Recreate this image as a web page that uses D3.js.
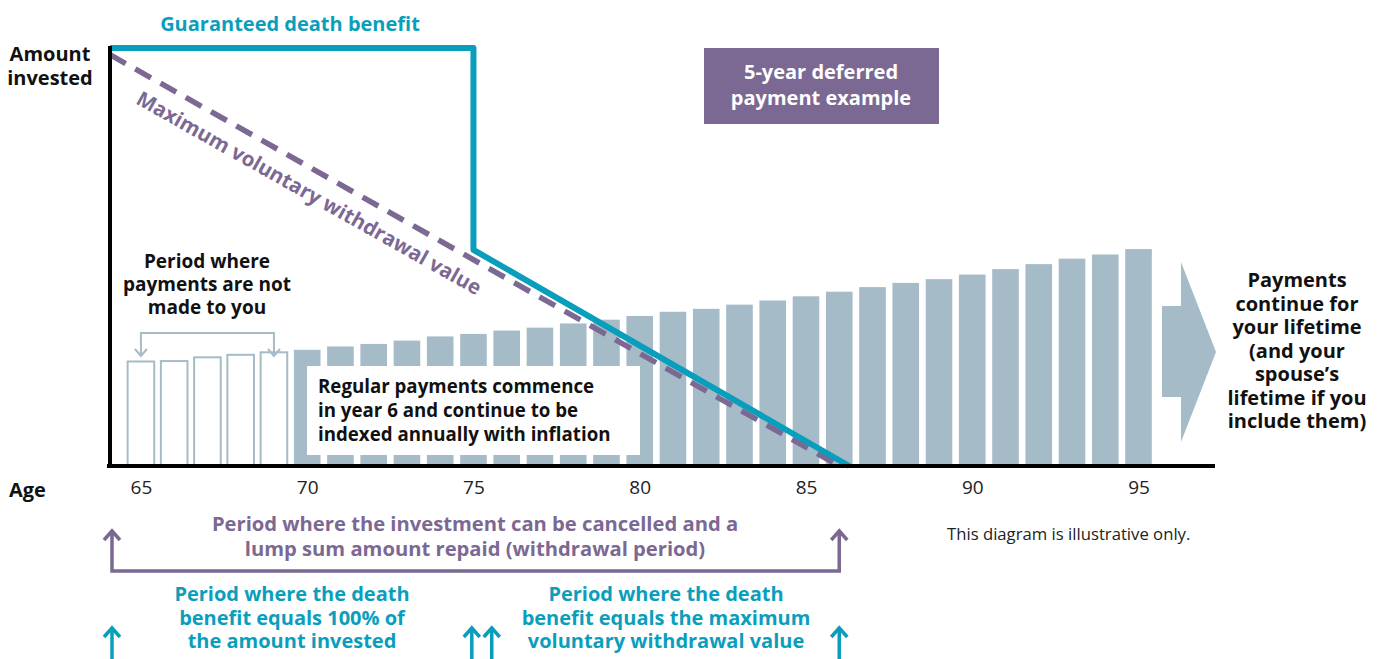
<!DOCTYPE html>
<html>
<head>
<meta charset="utf-8">
<script src="https://cdn.jsdelivr.net/npm/d3@7"></script>
<style>
  body { margin: 0; background: #fff; }
  svg { font-family: "Open Sans", "Noto Sans", sans-serif; }
</style>
</head>
<body>
<script>
// ages shown on the chart (one bar per year)
var ages = [65,66,67,68,69,70,71,72,73,74,75,76,77,78,79,80,81,82,83,84,85,86,87,88,89,90,91,92,93,94,95];
// payment amounts, as % of amount invested
var payments = [25.0,25.1,26.0,26.6,27.2,27.8,28.6,29.2,30.0,31.0,31.6,32.4,33.1,34.1,35.0,35.9,
                36.9,37.6,38.6,39.6,40.6,41.7,42.8,43.8,44.7,45.8,47.1,48.3,49.6,50.6,51.9];
var deferredYears = 5;
var tickAges = [65,70,75,80,85,90,95];

// guaranteed death benefit and max withdrawal value (age, % of amount invested)
var deathBenefit = [[64.07,100],[75,100],[75,51.7],[86.3,0]];
var withdrawal = [[64.07,98.4],[86.0,0]];

var teal = "#0a9ebd", purple = "#7b6893", barCol = "#a6bbc8";

var width = 1385, height = 659;

var x = d3.scaleLinear().domain([64.07, 97.3]).range([110, 1215]);
var y = d3.scaleLinear().domain([0, 100]).range([466, 48]);

var svg = d3.select('body').append('svg')
    .attr('width', width)
    .attr('height', height);

// bars
var bw = 0.8;
svg.append('g').selectAll('rect')
    .data(ages)
    .enter().append('rect')
    .attr('x', function(d) { return x(d - bw/2); })
    .attr('width', function(d) { return x(bw) - x(0); })
    .attr('y', function(d, i) { return y(payments[i]); })
    .attr('height', function(d, i) { return y(0) - y(payments[i]); })
    .attr('fill', function(d, i) { return i < deferredYears ? '#fff' : barCol; })
    .attr('stroke', function(d, i) { return i < deferredYears ? barCol : 'none'; })
    .attr('stroke-width', 2);

// white text box
svg.append('rect').attr('x', 307).attr('y', 366).attr('width', 333).attr('height', 89).attr('fill', '#fff');
var reg = svg.append('text').attr('font-size', 18.7).attr('font-weight', 'bold').attr('fill', '#111');
['Regular payments commence', 'in year 6 and continue to be', 'indexed annually with inflation'].forEach(function(t, i) {
  reg.append('tspan').attr('x', 318).attr('y', 393 + i*24).text(t);
});

// big arrow on the right
svg.append('path')
    .attr('d', 'M1162,306 L1181,306 L1181,262 L1216,352 L1181,442 L1181,397 L1162,397 Z')
    .attr('fill', barCol);

// lines
var line = d3.line().x(function(d) { return x(d[0]); }).y(function(d) { return y(d[1]); });

svg.append('path').datum(withdrawal)
    .attr('d', line)
    .attr('fill', 'none')
    .attr('stroke', purple)
    .attr('stroke-width', 5.5)
    .attr('stroke-dasharray', '18,11');

svg.append('path').datum(deathBenefit)
    .attr('d', line)
    .attr('fill', 'none')
    .attr('stroke', teal)
    .attr('stroke-width', 6)
    .attr('stroke-linejoin', 'round');

// axes
var xAxis = d3.axisBottom(x).tickValues(tickAges).tickSize(0).tickPadding(15);
var gx = svg.append('g').attr('transform', 'translate(0,' + y(0) + ')').call(xAxis);
gx.select('.domain').attr('stroke', '#000').attr('stroke-width', 4).attr('d', 'M107,0H1215');
gx.selectAll('text').attr('font-size', 19).attr('font-family', '"Open Sans", sans-serif').attr('fill', '#222');

svg.append('line').attr('x1', 110).attr('x2', 110).attr('y1', 46).attr('y2', 468)
    .attr('stroke', '#000').attr('stroke-width', 4);

// labels
function block(lines, xx, y0, lh, opts) {
  var t = svg.append('text')
    .attr('font-size', opts.size || 18)
    .attr('font-weight', opts.weight || 'bold')
    .attr('fill', opts.fill || '#111')
    .attr('text-anchor', opts.anchor || 'middle');
  lines.forEach(function(s, i) { t.append('tspan').attr('x', xx).attr('y', y0 + i*lh).text(s); });
  return t;
}

block(['Guaranteed death benefit'], 290, 31, 0, {size: 20, fill: teal});
block(['Amount', 'invested'], 50, 61, 24, {size: 20});
block(['Age'], 9, 497, 0, {size: 20, anchor: 'start'});

// rotated withdrawal label
var ang = Math.atan2(y(withdrawal[1][1]) - y(withdrawal[0][1]), x(withdrawal[1][0]) - x(withdrawal[0][0])) * 180 / Math.PI;
svg.append('text')
    .attr('transform', 'translate(309,193) rotate(' + ang + ')')
    .attr('text-anchor', 'middle')
    .attr('dy', '0.35em')
    .attr('font-size', 20.5)
    .attr('font-weight', 'bold')
    .attr('fill', purple)
    .text('Maximum voluntary withdrawal value');

// 5-year box
svg.append('rect').attr('x', 704).attr('y', 48).attr('width', 235).attr('height', 76).attr('fill', purple);
block(['5-year deferred', 'payment example'], 821, 79, 26, {size: 20, fill: '#fff'});

block(['Period where', 'payments are not', 'made to you'], 207, 268, 23, {size: 19});
block(['Payments', 'continue for', 'your lifetime', '(and your', 'spouse\u2019s', 'lifetime if you', 'include them)'],
      1297, 287, 23.5, {size: 20});

block(['This diagram is illustrative only.'], 947, 540, 0, {size: 16.7, weight: 'normal', anchor: 'start', fill: '#222'});

block(['Period where the investment can be cancelled and a', 'lump sum amount repaid (withdrawal period)'],
      475, 531, 25, {size: 20.2, fill: purple});
block(['Period where the death', 'benefit equals 100% of', 'the amount invested'], 292, 601, 23.5, {size: 20, fill: teal});
block(['Period where the death', 'benefit equals the maximum', 'voluntary withdrawal value'], 666, 601, 23.5, {size: 20, fill: teal});

// brackets and arrows
function chevron(cx, cy, dir, col, sw, hw) {
  hw = hw || 8;
  var h = (hw + 1) * dir;
  svg.append('path')
    .attr('d', 'M' + (cx - hw) + ',' + (cy + h) + ' L' + cx + ',' + cy + ' L' + (cx + hw) + ',' + (cy + h))
    .attr('fill', 'none').attr('stroke', col).attr('stroke-width', sw);
}

// grey bracket over unpaid years
svg.append('path')
    .attr('d', 'M' + x(65) + ',356 V333 H' + x(69) + ' V356')
    .attr('fill', 'none').attr('stroke', barCol).attr('stroke-width', 2);
chevron(x(65), 356, -1, barCol, 2, 6);
chevron(x(69), 356, -1, barCol, 2, 6);

// purple withdrawal period bracket
svg.append('path')
    .attr('d', 'M' + x(64.13) + ',531 V571 H' + x(86) + ' V531')
    .attr('fill', 'none').attr('stroke', purple).attr('stroke-width', 3.5);
chevron(x(64.13), 531, 1, purple, 3.5);
chevron(x(86), 531, 1, purple, 3.5);

// teal arrows
[64.13, 74.95, 75.55, 86].forEach(function(a) {
  svg.append('line').attr('x1', x(a)).attr('x2', x(a)).attr('y1', 628).attr('y2', 659)
     .attr('stroke', teal).attr('stroke-width', 3.5);
  chevron(x(a), 628, 1, teal, 3.5);
});
</script>
</body>
</html>
